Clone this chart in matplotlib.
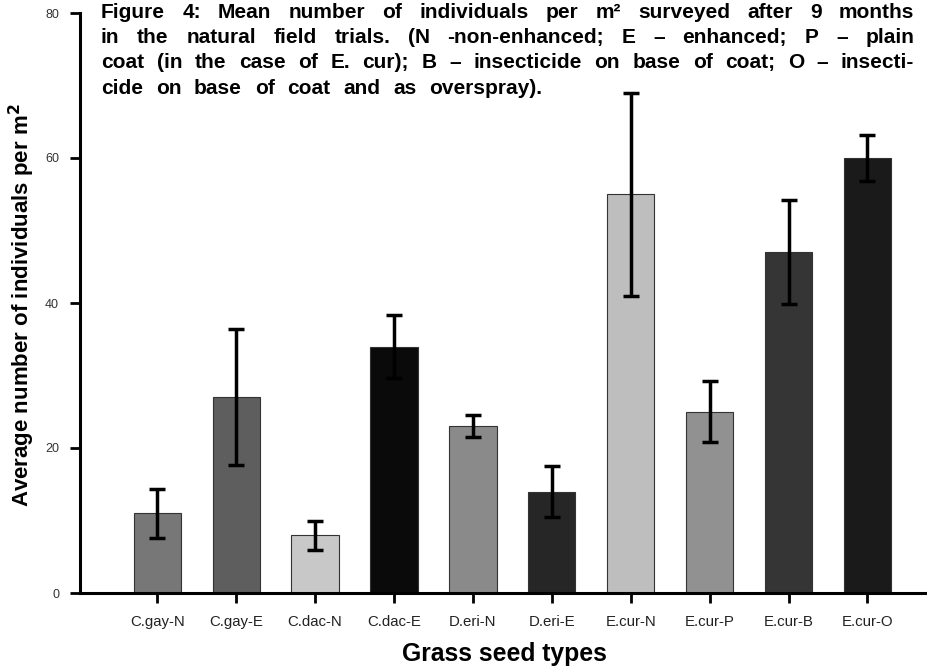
import matplotlib
matplotlib.use("Agg")
import matplotlib.pyplot as plt
import numpy as np

plt.rcParams['font.family'] = ['Liberation Sans', 'DejaVu Sans']

categories = ["C.gay-N", "C.gay-E", "C.dac-N", "C.dac-E", "D.eri-N",
              "D.eri-E", "E.cur-N", "E.cur-P", "E.cur-B", "E.cur-O"]
means = [11, 27, 8, 34, 23, 14, 55, 25, 47, 60]
errors = [3.4, 9.4, 2.0, 4.3, 1.5, 3.5, 14.0, 4.2, 7.2, 3.2]
bar_colors = ["#777777", "#5e5e5e", "#c8c8c8", "#0a0a0a", "#8a8a8a",
              "#262626", "#bebebe", "#919191", "#353535", "#1a1a1a"]
yticks = [0, 20, 40, 60, 80]

title_lines = [
    "Figure 4: Mean number of individuals per m\u00b2 surveyed after 9 months",
    "in the natural field trials. (N -non-enhanced; E \u2013 enhanced; P \u2013 plain",
    "coat (in the case of E. cur); B \u2013 insecticide on base of coat; O \u2013 insecti-",
    "cide on base of coat and as overspray).",
]

W, H = 927, 671
fig = plt.figure(figsize=(W / 100, H / 100), dpi=100)
ax = fig.add_axes([80 / W, 1 - 593 / H, (925 - 80) / W, (593 - 13) / H])

x = np.arange(len(categories))
ax.bar(x, means, width=0.6, color=bar_colors, edgecolor="#333333", linewidth=0.8, zorder=2)
ax.errorbar(x, means, yerr=errors, fmt="none", ecolor="black", elinewidth=2.5,
            capsize=6, capthick=2.5, zorder=3)

ax.set_xlim(-0.98, 9.73)
ax.set_ylim(0, 80)
ax.set_yticks(yticks)
ax.set_yticklabels([str(v) for v in yticks], fontsize=9, color="#333333")
ax.set_xticks(x)
ax.set_xticklabels(categories, fontsize=10.8, color="#222222")
ax.tick_params(axis="both", direction="out", length=7, width=2, color="black")
ax.tick_params(axis="y", pad=8)
ax.tick_params(axis="x", pad=9)
for s in ["top", "right"]:
    ax.spines[s].set_visible(False)
for s in ["left", "bottom"]:
    ax.spines[s].set_linewidth(2.2)

fig.text(22 / W, 1 - 305 / H, "Average number of individuals per m$^\\mathbf{2}$",
         rotation=90, ha="center", va="center", fontsize=16, fontweight="bold")
fig.text(504 / W, 1 - 661 / H, "Grass seed types", ha="center", va="baseline",
         fontsize=17.8, fontweight="bold")

# justified title block
renderer = fig.canvas.get_renderer()
left_px = 101
right_edges = [914, 914, 914, 542]
baselines = [18, 43, 68, 94]
fs = 15
for i, line in enumerate(title_lines):
    words = line.split(" ")
    ypos = 1 - baselines[i] / H
    texts = []
    widths = []
    for w in words:
        t = fig.text(0, ypos, w, fontsize=fs, fontweight="bold", ha="left", va="baseline")
        bb = t.get_window_extent(renderer=renderer)
        texts.append(t)
        widths.append(bb.width)
    gap = (right_edges[i] - left_px - sum(widths)) / (len(words) - 1)
    cur = left_px
    for t, wd in zip(texts, widths):
        t.set_x(cur / W)
        cur += wd + gap

fig.savefig("out.png", dpi=100)
